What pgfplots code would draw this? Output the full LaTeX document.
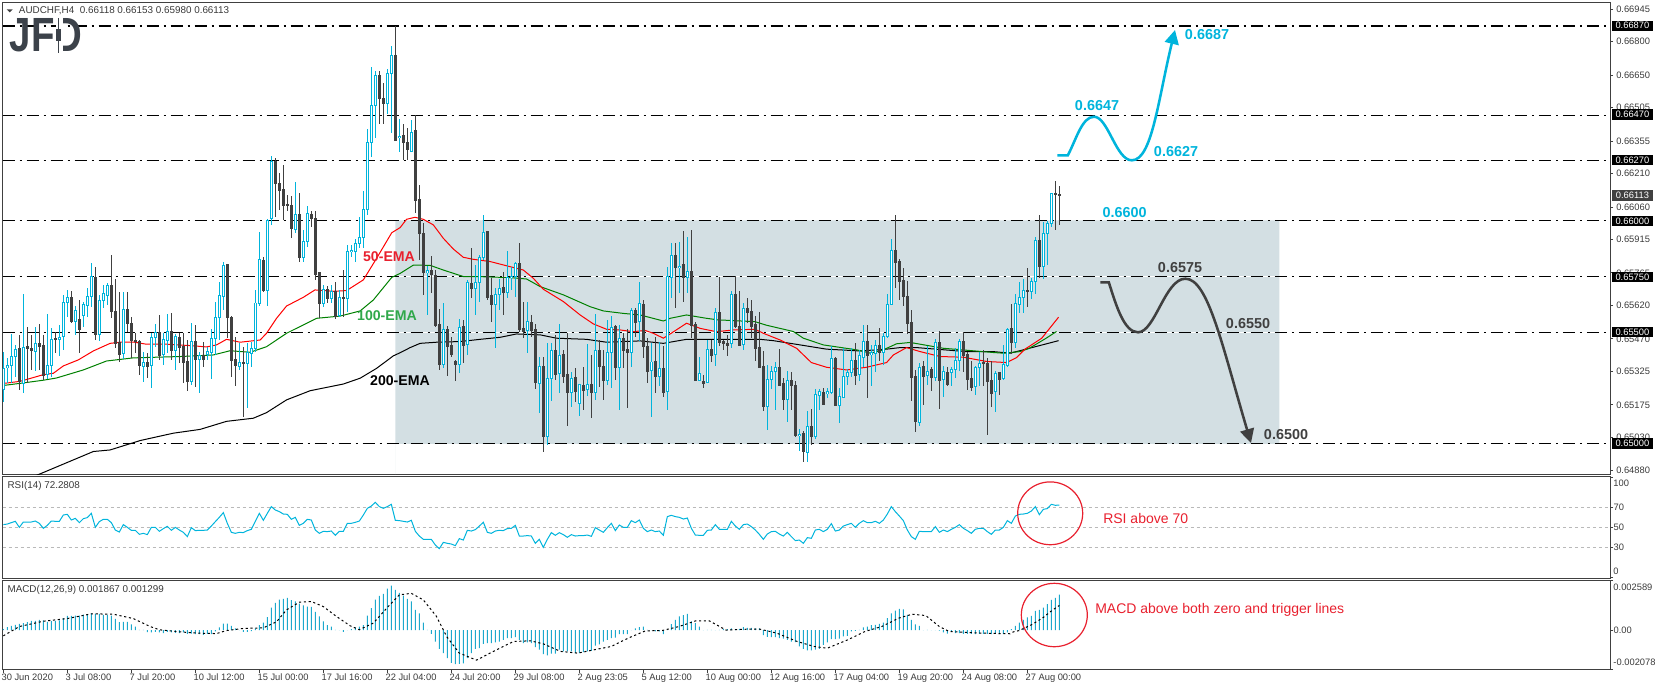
\documentclass[border=0pt]{standalone}
\usepackage{pgfplots}
\usepackage{pgfplotstable}
\usepackage{fontspec}
\setmainfont{Liberation Sans}
\pgfplotsset{compat=1.18}
\usetikzlibrary{arrows.meta}
\definecolor{cy}{HTML}{00B4DC}
\definecolor{dk}{HTML}{404040}
\definecolor{shade}{HTML}{D3DFE3}
\definecolor{hist}{HTML}{1CA8CC}
\definecolor{lbl}{HTML}{3A3A3A}
\definecolor{redt}{HTML}{E8202E}
\definecolor{greent}{HTML}{2FA84A}
\definecolor{emag}{HTML}{008000}
\definecolor{logo}{HTML}{3C424A}

\pgfplotstableread{
i o h l c
0 0.65246 0.65413 0.65189 0.65338
1 0.65341 0.65383 0.65271 0.65352
2 0.65352 0.65490 0.65271 0.65394
3 0.65391 0.65443 0.65301 0.65423
5 0.65271 0.65671 0.65229 0.65432
8 0.65413 0.65525 0.65328 0.65450
11 0.65309 0.65581 0.65289 0.65349
12 0.65352 0.65517 0.65301 0.65468
14 0.65468 0.65532 0.65394 0.65477
15 0.65480 0.65666 0.65420 0.65634
16 0.65634 0.65689 0.65570 0.65656
18 0.65547 0.65617 0.65487 0.65599
20 0.65573 0.65637 0.65525 0.65622
21 0.65619 0.65696 0.65570 0.65662
22 0.65662 0.65808 0.65614 0.65751
24 0.65492 0.65666 0.65462 0.65644
25 0.65641 0.65711 0.65607 0.65671
26 0.65666 0.65722 0.65622 0.65711
30 0.65405 0.65681 0.65379 0.65602
35 0.65350 0.65413 0.65279 0.65365
37 0.65350 0.65495 0.65249 0.65477
38 0.65477 0.65537 0.65435 0.65499
40 0.65398 0.65495 0.65353 0.65468
41 0.65465 0.65580 0.65405 0.65504
43 0.65420 0.65492 0.65331 0.65480
47 0.65279 0.65540 0.65264 0.65459
49 0.65379 0.65413 0.65229 0.65398
51 0.65402 0.65435 0.65376 0.65416
52 0.65408 0.65513 0.65291 0.65473
53 0.65473 0.65637 0.65398 0.65564
54 0.65564 0.65726 0.65465 0.65662
55 0.65659 0.65814 0.65599 0.65801
59 0.65350 0.65450 0.65331 0.65365
61 0.65361 0.65450 0.65159 0.65408
62 0.65405 0.65458 0.65346 0.65428
63 0.65428 0.65689 0.65413 0.65631
64 0.65629 0.65947 0.65617 0.65823
66 0.65686 0.66006 0.65617 0.66002
67 0.66007 0.66289 0.65980 0.66266
73 0.65962 0.66171 0.65943 0.66029
75 0.65833 0.65957 0.65816 0.65905
76 0.65905 0.66065 0.65883 0.66029
80 0.65629 0.65711 0.65611 0.65689
82 0.65652 0.65711 0.65629 0.65681
84 0.65573 0.65689 0.65567 0.65656
86 0.65650 0.65890 0.65592 0.65860
87 0.65860 0.65890 0.65838 0.65868
88 0.65860 0.65916 0.65816 0.65898
89 0.65898 0.66017 0.65875 0.65924
90 0.65924 0.66133 0.65875 0.66050
91 0.66050 0.66409 0.66025 0.66350
92 0.66348 0.66688 0.66286 0.66515
93 0.66514 0.66669 0.66368 0.66651
96 0.66523 0.66678 0.66476 0.66658
97 0.66658 0.66781 0.66390 0.66739
99 0.66371 0.66453 0.66308 0.66378
102 0.66309 0.66450 0.66306 0.66396
106 0.65768 0.65796 0.65577 0.65777
110 0.65358 0.65629 0.65338 0.65513
114 0.65355 0.65558 0.65319 0.65522
116 0.65446 0.65734 0.65398 0.65723
118 0.65695 0.65801 0.65577 0.65723
119 0.65723 0.65845 0.65637 0.65835
120 0.65835 0.66024 0.65823 0.65947
123 0.65625 0.65696 0.65431 0.65669
124 0.65669 0.65737 0.65599 0.65696
126 0.65677 0.65863 0.65652 0.65744
127 0.65744 0.65793 0.65689 0.65752
128 0.65752 0.65816 0.65659 0.65808
131 0.65507 0.65634 0.65408 0.65549
134 0.65274 0.65391 0.65137 0.65349
136 0.65033 0.65450 0.64995 0.65294
137 0.65292 0.65450 0.65194 0.65419
139 0.65315 0.65535 0.65230 0.65398
142 0.65230 0.65323 0.65167 0.65294
144 0.65182 0.65267 0.65125 0.65267
146 0.65244 0.65447 0.65215 0.65267
148 0.65230 0.65580 0.65197 0.65419
151 0.65283 0.65555 0.65264 0.65411
152 0.65408 0.65573 0.65249 0.65522
154 0.65341 0.65532 0.65152 0.65473
157 0.65408 0.65610 0.65346 0.65599
159 0.65547 0.65725 0.65462 0.65629
162 0.65328 0.65450 0.65119 0.65367
164 0.65301 0.65458 0.65259 0.65338
166 0.65234 0.65793 0.65152 0.65751
167 0.65746 0.65898 0.65652 0.65845
169 0.65790 0.65905 0.65674 0.65796
171 0.65744 0.65927 0.65674 0.65771
174 0.65286 0.65391 0.65282 0.65316
176 0.65276 0.65465 0.65271 0.65423
178 0.65401 0.65610 0.65349 0.65589
182 0.65451 0.65686 0.65431 0.65670
185 0.65446 0.65629 0.65421 0.65607
191 0.65167 0.65351 0.65063 0.65289
192 0.65289 0.65349 0.65246 0.65325
193 0.65324 0.65366 0.65152 0.65343
196 0.65199 0.65327 0.65096 0.65285
199 0.65037 0.65066 0.64970 0.65043
201 0.64961 0.65148 0.64921 0.65081
203 0.65033 0.65246 0.65023 0.65219
204 0.65216 0.65246 0.65152 0.65236
206 0.65227 0.65249 0.65204 0.65234
207 0.65230 0.65436 0.65224 0.65385
209 0.65175 0.65249 0.65093 0.65213
210 0.65210 0.65431 0.65204 0.65304
211 0.65301 0.65334 0.65264 0.65322
212 0.65321 0.65431 0.65298 0.65376
214 0.65310 0.65421 0.65283 0.65394
215 0.65388 0.65530 0.65346 0.65459
217 0.65400 0.65443 0.65260 0.65409
218 0.65406 0.65465 0.65324 0.65439
220 0.65409 0.65495 0.65354 0.65483
221 0.65480 0.65671 0.65473 0.65626
222 0.65625 0.65917 0.65622 0.65868
229 0.65099 0.65364 0.65078 0.65345
231 0.65306 0.65436 0.65264 0.65327
233 0.65297 0.65470 0.65282 0.65456
235 0.65288 0.65349 0.65212 0.65322
237 0.65321 0.65346 0.65260 0.65336
238 0.65333 0.65428 0.65294 0.65376
239 0.65374 0.65470 0.65327 0.65459
243 0.65257 0.65349 0.65219 0.65343
244 0.65343 0.65413 0.65257 0.65361
248 0.65233 0.65327 0.65145 0.65316
250 0.65292 0.65443 0.65286 0.65354
251 0.65351 0.65518 0.65346 0.65513
253 0.65456 0.65670 0.65431 0.65629
254 0.65626 0.65723 0.65585 0.65656
255 0.65655 0.65738 0.65585 0.65689
257 0.65683 0.65741 0.65649 0.65728
258 0.65728 0.65925 0.65671 0.65911
260 0.65794 0.65995 0.65737 0.65943
261 0.65943 0.65998 0.65801 0.65987
262 0.65987 0.66122 0.65969 0.66122
}\bulltab

\pgfplotstableread{
i o h l c
4 0.65426 0.65488 0.65241 0.65279
6 0.65434 0.65525 0.65271 0.65426
7 0.65428 0.65488 0.65331 0.65417
9 0.65450 0.65537 0.65331 0.65435
10 0.65443 0.65488 0.65286 0.65309
13 0.65471 0.65502 0.65405 0.65468
17 0.65656 0.65684 0.65540 0.65547
19 0.65558 0.65644 0.65405 0.65514
23 0.65747 0.65793 0.65465 0.65492
27 0.65711 0.65845 0.65562 0.65592
28 0.65595 0.65737 0.65428 0.65450
29 0.65456 0.65681 0.65368 0.65402
31 0.65602 0.65681 0.65502 0.65540
32 0.65540 0.65570 0.65383 0.65461
33 0.65462 0.65495 0.65405 0.65459
34 0.65461 0.65465 0.65309 0.65350
36 0.65365 0.65405 0.65294 0.65350
39 0.65499 0.65577 0.65376 0.65398
42 0.65504 0.65584 0.65376 0.65420
44 0.65477 0.65495 0.65361 0.65431
45 0.65435 0.65495 0.65274 0.65364
46 0.65370 0.65465 0.65238 0.65279
48 0.65459 0.65532 0.65256 0.65379
50 0.65398 0.65458 0.65346 0.65380
56 0.65801 0.65801 0.65473 0.65565
57 0.65568 0.65574 0.65301 0.65376
58 0.65379 0.65480 0.65261 0.65350
60 0.65365 0.65435 0.65122 0.65361
65 0.65823 0.65838 0.65681 0.65686
68 0.66265 0.66278 0.66017 0.66163
69 0.66169 0.66211 0.66047 0.66136
70 0.66141 0.66248 0.66002 0.66069
71 0.66074 0.66114 0.66044 0.66066
72 0.66069 0.66110 0.65920 0.65965
74 0.66029 0.66124 0.65816 0.65834
77 0.66029 0.66044 0.65972 0.66008
78 0.66010 0.66044 0.65734 0.65756
79 0.65766 0.65766 0.65562 0.65629
81 0.65692 0.65707 0.65629 0.65650
83 0.65681 0.65723 0.65559 0.65570
85 0.65656 0.65778 0.65570 0.65650
94 0.66649 0.66669 0.66432 0.66545
95 0.66548 0.66617 0.66432 0.66526
98 0.66739 0.66870 0.66360 0.66360
100 0.66382 0.66432 0.66271 0.66348
101 0.66351 0.66412 0.66271 0.66317
103 0.66400 0.66472 0.66032 0.66089
104 0.66095 0.66159 0.65823 0.65942
105 0.65942 0.65987 0.65666 0.65766
107 0.65778 0.65841 0.65674 0.65756
108 0.65756 0.65778 0.65525 0.65532
109 0.65537 0.65602 0.65331 0.65358
111 0.65514 0.65529 0.65304 0.65435
112 0.65443 0.65480 0.65391 0.65403
113 0.65368 0.65376 0.65282 0.65356
115 0.65525 0.65555 0.65364 0.65443
117 0.65720 0.65875 0.65652 0.65695
121 0.65950 0.65953 0.65644 0.65656
122 0.65662 0.65741 0.65547 0.65622
125 0.65699 0.65771 0.65577 0.65677
129 0.65808 0.65901 0.65502 0.65514
130 0.65517 0.65637 0.65473 0.65507
132 0.65544 0.65577 0.65480 0.65510
133 0.65514 0.65537 0.65244 0.65274
135 0.65349 0.65391 0.64964 0.65033
138 0.65420 0.65488 0.65286 0.65313
140 0.65401 0.65420 0.65271 0.65301
141 0.65313 0.65495 0.65082 0.65230
143 0.65298 0.65338 0.65189 0.65234
145 0.65264 0.65346 0.65152 0.65241
147 0.65268 0.65398 0.65118 0.65230
149 0.65420 0.65465 0.65256 0.65346
150 0.65349 0.65420 0.65197 0.65283
153 0.65525 0.65532 0.65286 0.65341
155 0.65470 0.65495 0.65338 0.65420
156 0.65425 0.65514 0.65159 0.65408
158 0.65599 0.65610 0.65480 0.65543
160 0.65626 0.65644 0.65383 0.65435
161 0.65435 0.65476 0.65271 0.65326
163 0.65368 0.65480 0.65227 0.65301
165 0.65338 0.65440 0.65212 0.65231
168 0.65845 0.65898 0.65607 0.65789
170 0.65802 0.65954 0.65637 0.65744
172 0.65774 0.65957 0.65473 0.65529
173 0.65537 0.65547 0.65282 0.65286
175 0.65282 0.65309 0.65249 0.65271
177 0.65425 0.65465 0.65368 0.65398
179 0.65589 0.65746 0.65436 0.65454
180 0.65458 0.65465 0.65421 0.65448
181 0.65452 0.65488 0.65394 0.65440
183 0.65670 0.65752 0.65518 0.65528
184 0.65528 0.65685 0.65439 0.65443
186 0.65607 0.65652 0.65540 0.65589
187 0.65595 0.65644 0.65473 0.65528
188 0.65533 0.65573 0.65371 0.65425
189 0.65431 0.65592 0.65342 0.65342
190 0.65349 0.65416 0.65148 0.65166
194 0.65343 0.65424 0.65257 0.65264
195 0.65269 0.65294 0.65152 0.65197
197 0.65285 0.65324 0.65152 0.65264
198 0.65264 0.65282 0.65033 0.65037
200 0.65045 0.65058 0.64921 0.64966
202 0.65081 0.65157 0.64996 0.65033
205 0.65233 0.65249 0.65179 0.65179
208 0.65385 0.65391 0.65170 0.65175
213 0.65376 0.65453 0.65264 0.65309
216 0.65459 0.65533 0.65207 0.65398
219 0.65439 0.65518 0.65371 0.65409
223 0.65868 0.66025 0.65697 0.65814
224 0.65819 0.65826 0.65644 0.65729
225 0.65734 0.65789 0.65618 0.65659
226 0.65662 0.65731 0.65492 0.65540
227 0.65543 0.65597 0.65194 0.65295
228 0.65300 0.65331 0.65055 0.65099
230 0.65346 0.65369 0.65175 0.65304
232 0.65331 0.65346 0.65239 0.65297
234 0.65456 0.65506 0.65157 0.65286
236 0.65318 0.65346 0.65257 0.65264
240 0.65459 0.65500 0.65324 0.65398
241 0.65403 0.65413 0.65242 0.65288
242 0.65291 0.65369 0.65239 0.65251
245 0.65363 0.65421 0.65257 0.65360
246 0.65363 0.65383 0.65040 0.65279
247 0.65282 0.65373 0.65163 0.65224
249 0.65318 0.65324 0.65219 0.65286
252 0.65518 0.65625 0.65401 0.65456
256 0.65686 0.65786 0.65614 0.65680
259 0.65911 0.66025 0.65741 0.65794
263 0.66122 0.66177 0.65958 0.66116
264 0.66118 0.66153 0.65980 0.66113
}\beartab

\pgfplotsset{
 panel/.style={
  scale only axis, width=1205.5pt, xmin=-0.1575, xmax=401.67,
  axis line style={draw=dk,line width=.75pt},
  tick style={draw=dk,line width=.75pt},
  major tick length=2.25pt, tick align=outside,
  ytick pos=right, yticklabel pos=right, xtick pos=bottom,
  scaled y ticks=false,
  ticklabel style={font=\fontsize{7}{8}\selectfont, text=lbl},
  yticklabel style={anchor=west, inner sep=0pt},
 },
 lev/.style={black,line width=.8pt,dash pattern=on 9pt off 3.75pt on 1.5pt off 3.75pt, forget plot},
 cnd/.style={no marks,draw=none,forget plot,error bars/.cd,y dir=both,y explicit,error mark=none,error bar style={#1}},
}

\begin{document}
\begin{tikzpicture}
\path[use as bounding box] (0pt,0pt) rectangle (1241.25pt,-517.5pt);

% ---------- main panel
\begin{axis}[panel, at={(2.025pt,-1.725pt)}, anchor=north west, height=354pt,
  ymin=0.64864, ymax=0.66976, xtick=\empty,
  ytick={0.66945,0.668,0.6665,0.66505,0.66355,0.6621,0.6606,0.65915,0.65765,0.6562,0.6547,0.65325,0.65175,0.6503,0.6488},
  yticklabels={0.66945,0.66800,0.66650,0.66505,0.66355,0.66210,0.66060,0.65915,0.65765,0.65620,0.65470,0.65325,0.65175,0.65030,0.64880},
  yticklabel style={xshift=2.2pt},
]
\addplot[fill=shade,draw=none,forget plot] coordinates {(98,0.65)(319,0.65)(319,0.66)(98,0.66)} \closedcycle;
\addplot[white,line width=.8pt,forget plot] coordinates {(98,0.6575)(319,0.6575)};
\addplot[white,line width=.8pt,forget plot] coordinates {(98,0.655)(319,0.655)};
\addplot[lev] coordinates {(-0.15,0.6687)(401.6,0.6687)};
\addplot[lev] coordinates {(-0.15,0.6647)(401.6,0.6647)};
\addplot[lev] coordinates {(-0.15,0.6627)(401.6,0.6627)};
\addplot[lev] coordinates {(-0.15,0.66)(401.6,0.66)};
\addplot[lev] coordinates {(-0.15,0.6575)(401.6,0.6575)};
\addplot[lev] coordinates {(-0.15,0.655)(401.6,0.655)};
\addplot[lev] coordinates {(-0.15,0.65)(401.6,0.65)};
% 200-EMA
\addplot[black,line width=.75pt,forget plot] coordinates {(0,0.64800)(9.2,0.64866)(22.5,0.64966)(26.7,0.64973)(34.2,0.65015)(42.5,0.65048)(49.2,0.65065)(55.8,0.65101)(62.5,0.65115)(65.8,0.65140)(70.8,0.65197)(76.7,0.65238)(85,0.65268)(89.2,0.65294)(93.3,0.65338)(97.5,0.65394)(99.2,0.65408)(101.7,0.65431)(104.2,0.65450)(108.3,0.65455)(114.2,0.65458)(119.2,0.65468)(124.2,0.65477)(128.3,0.65492)(134.2,0.65488)(138.3,0.65473)(145.8,0.65468)(150.8,0.65455)(159.2,0.65461)(165,0.65450)(170.8,0.65468)(178.3,0.65468)(189.2,0.65468)(192.5,0.65462)(199.2,0.65443)(205.8,0.65424)(214.2,0.65416)(220.8,0.65424)(224.2,0.65431)(228.3,0.65431)(240.8,0.65413)(247.5,0.65413)(251.7,0.65406)(256.5,0.65428)(263.8,0.65462)};
% 100-EMA
\addplot[emag,line width=.75pt,forget plot] coordinates {(0.2,0.65262)(4.2,0.65271)(10,0.65285)(13.3,0.65295)(20,0.65331)(25.8,0.65371)(32.5,0.65385)(44.2,0.65391)(52.5,0.65398)(56.7,0.65417)(61.7,0.65410)(65.8,0.65435)(70.8,0.65495)(78.3,0.65562)(84.2,0.65572)(89.2,0.65595)(92.5,0.65644)(97.1,0.65745)(99.2,0.65763)(102.5,0.65800)(106.7,0.65799)(110,0.65778)(115,0.65749)(118.3,0.65749)(126.7,0.65744)(130.8,0.65738)(134.2,0.65704)(140,0.65667)(146.7,0.65614)(150,0.65595)(155,0.65584)(159.2,0.65577)(165,0.65550)(166.7,0.65562)(170.8,0.65577)(175.8,0.65562)(178.7,0.65555)(187.9,0.65547)(190.8,0.65531)(197.5,0.65503)(200,0.65473)(205,0.65443)(213.3,0.65421)(216.8,0.65406)(220,0.65421)(223.3,0.65448)(226.7,0.65454)(235,0.65428)(247.5,0.65409)(250,0.65406)(254.2,0.65413)(256.5,0.65428)(260.7,0.65473)(263.3,0.65503)};
% 50-EMA
\addplot[red,line width=.75pt,forget plot] coordinates {(0.2,0.65271)(4.2,0.65280)(8.3,0.65301)(10,0.65310)(12.5,0.65316)(15,0.65349)(18.75,0.65376)(22.5,0.65416)(26.7,0.65450)(29.2,0.65455)(32.5,0.65456)(35.8,0.65446)(40,0.65447)(46.7,0.65440)(50.8,0.65434)(53.3,0.65443)(55.8,0.65468)(59.2,0.65455)(64.2,0.65465)(65.8,0.65495)(68.3,0.65562)(70.8,0.65617)(75,0.65656)(77.9,0.65689)(82.5,0.65683)(85.8,0.65686)(90,0.65734)(93.3,0.65830)(97.1,0.65945)(99.2,0.65968)(100.8,0.66005)(102.9,0.66014)(105,0.66005)(107.5,0.65980)(110,0.65920)(112.5,0.65872)(115,0.65835)(117.5,0.65826)(121.7,0.65816)(126.7,0.65793)(130,0.65778)(132.5,0.65741)(135,0.65692)(140,0.65637)(144.2,0.65577)(147.5,0.65537)(150.8,0.65513)(154.2,0.65510)(157.5,0.65502)(160.4,0.65508)(162.5,0.65495)(165,0.65473)(166.7,0.65492)(170.8,0.65540)(174.2,0.65517)(178.3,0.65502)(182.5,0.65510)(187.9,0.65513)(190,0.65495)(194.2,0.65465)(198.3,0.65428)(202,0.65364)(205.8,0.65343)(210.8,0.65331)(215.8,0.65343)(220.8,0.65364)(222.5,0.65398)(225.8,0.65431)(229.2,0.65413)(234.2,0.65391)(240,0.65388)(245.8,0.65369)(250.8,0.65364)(253.3,0.65386)(255.4,0.65424)(259.6,0.65473)(263.8,0.65567)};
% candles
\addplot[cnd={draw=cy,line width=.75pt}]
  table[x=i,y=c,y error plus expr=\thisrow{h}-\thisrow{c},y error minus expr=\thisrow{c}-\thisrow{l}] {\bulltab};
\addplot[cnd={draw=dk,line width=.75pt}]
  table[x=i,y=c,y error plus expr=\thisrow{h}-\thisrow{c},y error minus expr=\thisrow{c}-\thisrow{l}] {\beartab};
\addplot[cnd={draw=cy,line width=2.25pt}]
  table[x=i,y expr=(\thisrow{o}+\thisrow{c})/2,y error expr=(\thisrow{c}-\thisrow{o})/2+0.000022] {\bulltab};
\addplot[cnd={draw=white,line width=.75pt}]
  table[x=i,y expr=(\thisrow{o}+\thisrow{c})/2,y error expr={max((\thisrow{c}-\thisrow{o})/2-0.000022,0)}] {\bulltab};
\addplot[cnd={draw=dk,line width=2.25pt}]
  table[x=i,y expr=(\thisrow{o}+\thisrow{c})/2,y error expr=(\thisrow{o}-\thisrow{c})/2+0.000022] {\beartab};
\end{axis}

% ---------- RSI panel
\begin{axis}[panel, at={(2.025pt,-357.525pt)}, anchor=north west, height=76pt,
  ymin=-0.7, ymax=100.6, xtick=\empty,
  ytick={100,70,50,30,0},
  yticklabels={,70,50,30,},
  yticklabel style={xshift=0.2pt},
]
\addplot[gray!55,line width=.75pt,dash pattern=on 2.5pt off 2pt,forget plot] coordinates {(-0.15,70)(401.6,70)};
\addplot[gray!55,line width=.75pt,dash pattern=on 2.5pt off 2pt,forget plot] coordinates {(-0.15,50)(401.6,50)};
\addplot[gray!55,line width=.75pt,dash pattern=on 2.5pt off 2pt,forget plot] coordinates {(-0.15,30)(401.6,30)};
\addplot[cy,line width=.75pt,forget plot] coordinates {
(0,52.7)(1,53.3)(2,54.7)(3,56)(4,50)(5,55.3)(6,55.3)(7,55.3)(8,56.3)(9,54)(10,49)(11,52)(12,56.3)(13,56)(14,56)(15,62.3)(16,63)(17,57.3)(18,59)(19,54.7)(20,58.7)(21,59.7)(22,64)(23,50)(24,55.7)(25,58)(26,58)(27,54.7)(28,47.3)(29,45.3)(30,52.7)(31,50)(32,47)(33,47)(34,43)(35,44)(36,42.7)(37,50)(38,50)(39,46)(40,48.7)(41,51)(42,47)(43,50)(44,47.3)(45,45)(46,40.7)(47,49.7)(48,46.7)(49,47)(50,47)(51,47.3)(52,51.3)(53,55.7)(54,60)(55,64.7)(56,54)(57,45)(58,44)(59,45)(60,44.7)(61,46.7)(62,48)(63,56)(64,64)(65,57)(66,64)(67,70.7)(68,67.3)(69,65.7)(70,63.3)(71,63)(72,58)(73,60)(74,52)(75,54)(76,58)(77,57.3)(78,47.3)(79,44)(80,46)(81,45.7)(82,46.3)(83,42)(84,46)(85,46)(86,54)(87,54)(88,55)(89,56.3)(90,62.3)(91,69)(92,71.3)(93,75)(94,70.7)(95,69)(96,70.7)(97,73)(98,57)(99,56.7)(100,56)(101,55.3)(102,57)(103,46)(104,41.3)(105,38)(106,38)(107,38)(108,32.3)(109,28.7)(110,35)(111,34)(112,33.3)(113,31.7)(114,38.7)(115,37.3)(116,47)(117,46.3)(118,47.7)(119,51.3)(120,55)(121,45)(122,44)(123,46.3)(124,47)(125,46.7)(126,48.7)(127,49)(128,52)(129,41.3)
(130,41.3)(131,41.7)(132,41.3)(133,34)(134,38)(135,30)(136,38)(137,44.7)(138,42)(139,44.7)(140,42.7)(141,40)(142,42.7)(143,41.3)(144,41.7)(145,41.7)(146,42.3)(147,41)(148,49.7)(149,47.3)(150,45)(151,49.7)(152,54)(153,46.7)(154,52.3)(155,50)(156,50)(157,56.7)(158,54.7)(159,57.3)(160,49)(161,45.7)(162,47.3)(163,45.7)(164,46.3)(165,42)(166,60.7)(167,62)(168,60.7)(169,60)(170,58.3)(171,59.3)(172,49)(173,42.3)(174,42)(175,42)(176,47)(177,47.3)(178,52.7)(179,48)(180,48)(181,48)(182,56)(183,51.3)(184,48)(185,52.7)(186,53.3)(187,50.7)(188,47.3)(189,43)(190,38)(191,43.3)(192,45.7)(193,46)(194,43.3)(195,41.3)(196,45)(197,40.7)(198,36.7)(199,37.3)(200,34)(201,39.7)(202,39)(203,47.3)(204,48)(205,45.7)(206,48)(207,53.7)(208,46.3)(209,47.3)(210,51.3)(211,52.7)(212,54)(213,50)(214,54)(215,56.7)(216,54.7)(217,54.7)(218,56)(219,54)(220,57.3)(221,63.3)(222,70.7)(223,65.7)(224,61.3)(225,56.7)(226,47.3)(227,40.7)(228,38)(229,46)(230,45.7)(231,45.7)(232,45.7)(233,50.7)(234,45)(235,47.3)(236,45.7)(237,48)(238,50)(239,52.7)(240,49)(241,46.7)(242,44)(243,48)(244,49)(245,49)(246,45.7)(247,43)(248,47.3)(249,47.3)(250,50)(251,56.7)(252,54)(253,61.3)(254,63)(255,63.3)(256,64)(257,66.3)(258,70.7)(259,62.7)(260,68)(261,68.7)(262,73)(263,72)(264,72.28)};
\end{axis}

% ---------- MACD panel
\begin{axis}[panel, at={(2.025pt,-435.225pt)}, anchor=north west, height=67pt,
  ymin=-0.00208, ymax=0.002625,
  ytick={0.002589,0,-0.002078},
  yticklabels={,0.00,},
  yticklabel style={xshift=0.2pt},
  xtick={0,16,32,48,64,80,96,112,128,144,160,176,192,208,224,240,256},
  xticklabels={30 Jun 2020,3 Jul 08:00,7 Jul 20:00,10 Jul 12:00,15 Jul 00:00,17 Jul 16:00,22 Jul 04:00,24 Jul 20:00,29 Jul 08:00,2 Aug 23:05,5 Aug 12:00,10 Aug 00:00,12 Aug 16:00,17 Aug 04:00,19 Aug 20:00,24 Aug 08:00,27 Aug 00:00},
  xticklabel style={anchor=north west, inner sep=0pt, xshift=-1.5pt, yshift=-0.8pt},
]
\addplot[ybar,bar width=.75pt,bar shift=0pt,fill=hist,draw=none,forget plot] coordinates {
(0,0.00005)(1,0.00016)(2,0.00023)(3,0.00028)(4,0.00033)(5,0.00037)(6,0.00042)(7,0.00049)(8,0.00049)(9,0.00054)(10,0.00051)(11,0.00044)(12,0.00047)(13,0.00049)(14,0.00051)(15,0.00063)(16,0.00075)(17,0.00075)(18,0.00077)(19,0.00077)(20,0.00082)(21,0.00084)(22,0.00089)(23,0.00086)(24,0.00086)(25,0.00080)(26,0.00080)(27,0.00077)(28,0.00060)(29,0.00042)(30,0.00044)(31,0.00044)(32,0.00030)(33,0.00019)(34,0.00002)(35,0.00002)(36,-0.00010)(37,-0.00012)(38,-0.00009)(39,-0.00012)(40,-0.00016)(41,-0.00009)(42,-0.00012)(43,-0.00014)(44,-0.00016)(45,-0.00012)(46,-0.00019)(47,-0.00018)(48,-0.00021)(49,-0.00021)(50,-0.00025)(51,-0.00019)(52,-0.00021)(53,-0.00007)(54,0.00014)(55,0.00035)(56,0.00035)(57,0.00023)(58,0.00009)(59,0)(60,-0.00009)(61,-0.00009)(62,-0.00005)(63,0.00009)(64,0.00026)(65,0.00040)(66,0.00068)(67,0.00119)(68,0.00144)(69,0.00161)(70,0.00165)(71,0.00170)(72,0.00158)(73,0.00151)(74,0.00140)(75,0.00131)(76,0.00124)(77,0.00123)(78,0.00096)(79,0.00072)(80,0.00046)(81,0.00026)(82,0.00019)(83,0.00001)(84,0)(85,-0.00009)(86,0)(87,0.00005)(88,0.00014)(89,0.00019)(90,0.00026)(91,0.00077)(92,0.00116)(93,0.00161)(94,0.00180)(95,0.00191)(96,0.00219)(97,0.00235)(98,0.00212)(99,0.00196)(100,0.00182)(101,0.00165)(102,0.00151)(103,0.00107)(104,0.00089)(105,0.00040)(106,0.00002)(107,-0.00019)(108,-0.00060)(109,-0.00098)(110,-0.00121)(111,-0.00147)(112,-0.00173)(113,-0.00179)(114,-0.00177)(115,-0.00175)(116,-0.00147)(117,-0.00121)(118,-0.00098)(119,-0.00095)(120,-0.00072)(121,-0.00068)(122,-0.00068)(123,-0.00065)(124,-0.00060)(125,-0.00051)(126,-0.00042)(127,-0.00042)(128,-0.00037)(129,-0.00051)
(130,-0.00068)(131,-0.00065)(132,-0.00068)(133,-0.00089)(134,-0.00103)(135,-0.00126)(136,-0.00133)(137,-0.00124)(138,-0.00124)(139,-0.00103)(140,-0.00112)(141,-0.00112)(142,-0.00112)(143,-0.00121)(144,-0.00121)(145,-0.00116)(146,-0.00112)(147,-0.00109)(148,-0.00082)(149,-0.00075)(150,-0.00061)(151,-0.00051)(152,-0.00042)(153,-0.00039)(154,-0.00021)(155,-0.00021)(156,-0.00021)(157,0)(158,0.00010)(159,0.00016)(160,0.00019)(161,0.00002)(162,0)(163,-0.00007)(164,-0.00007)(165,-0.00021)(166,0.00002)(167,0.00032)(168,0.00054)(169,0.00072)(170,0.00079)(171,0.00086)(172,0.00046)(173,0.00037)(174,0.00019)(175,0)(176,0.00002)(177,0.00002)(178,0)(179,0.00002)(180,0.00005)(181,0.00005)(182,0.00010)(183,0.00005)(184,0.00007)(185,0.00016)(186,0.00012)(187,0.00012)(188,0.00010)(189,0.00010)(190,-0.00026)(191,-0.00035)(192,-0.00037)(193,-0.00037)(194,-0.00042)(195,-0.00044)(196,-0.00051)(197,-0.00060)(198,-0.00063)(199,-0.00086)(200,-0.00098)(201,-0.00107)(202,-0.00107)(203,-0.00103)(204,-0.00098)(205,-0.00077)(206,-0.00065)(207,-0.00047)(208,-0.00047)(209,-0.00044)(210,-0.00033)(211,-0.00030)(212,-0.00007)(213,-0.00004)(214,0.00002)(215,0.00014)(216,0.00019)(217,0.00026)(218,0.00028)(219,0.00033)(220,0.00040)(221,0.00063)(222,0.00089)(223,0.00103)(224,0.00112)(225,0.00110)(226,0.00080)(227,0.00054)(228,0.00030)(229,0.00023)(230,0)(231,0.00002)(232,0)(233,0)(234,-0.00002)(235,-0.00012)(236,-0.00018)(237,-0.00007)(238,-0.00016)(239,-0.00016)(240,-0.00019)(241,-0.00019)(242,-0.00019)(243,-0.00021)(244,-0.00019)(245,-0.00019)(246,-0.00019)(247,-0.00021)(248,-0.00019)(249,-0.00021)(250,-0.00019)(251,-0.00012)(252,0.00005)(253,0.00023)(254,0.00040)(255,0.00054)(256,0.00067)(257,0.00075)(258,0.00102)(259,0.00107)(260,0.00119)(261,0.00137)(262,0.00159)(263,0.00170)(264,0.00187)};
\addplot[black,line width=.75pt,dash pattern=on 1.6pt off 2pt,forget plot] coordinates {
(0,-0.00030)(4,0.00019)(10,0.00047)(16,0.00061)(22,0.00086)(27.5,0.00084)(32.5,0.00061)(36.7,0.00019)(39,0.00002)(44,-0.00009)(49,-0.00016)(53.3,-0.00018)(55.8,-0.00002)(60,0.00009)(65,0.00012)(68.3,0.00044)(70.8,0.00107)(74,0.00147)(77,0.00151)(80,0.00124)(83.3,0.00072)(86.7,0.00023)(89,0.00002)(92.5,0.00037)(96.2,0.00124)(99,0.00186)(102,0.00194)(105,0.00159)(108.3,0.00072)(110.8,-0.00033)(114,-0.00121)(118.3,-0.00158)(122.5,-0.00112)(127.5,-0.00060)(131.7,-0.00056)(135,-0.00072)(139.3,-0.00112)(143.6,-0.00121)(147.8,-0.00103)(152,-0.00086)(156.2,-0.00042)(160.5,-0.00004)(164.7,-0.00002)(168.9,0.00019)(173.1,0.00049)(176.5,0.00049)(180.7,0)(185.8,0.00005)(189.2,0.00005)(193.4,-0.00016)(198.5,-0.00060)(202.7,-0.00086)(206,-0.00095)(211.1,-0.00051)(215.4,-0.00007)(219.6,0.00019)(223.8,0.00063)(227.2,0.00084)(230.6,0.00077)(234,0.00019)(236.5,-0.00007)(245,-0.00016)(251.7,-0.00019)(252.5,-0.00009)(254,-0.00002)(255.4,0.00012)(257,0.00028)(258.5,0.00047)(260,0.00067)(261.5,0.00093)(263.2,0.00119)(264,0.00130)};
\end{axis}

% ---------- annotations in image pixels
\begin{scope}[x=.75pt,y=-.75pt]
\def\lb{\fontsize{7}{8}\selectfont}
\def\ann{\bfseries\fontsize{10.8}{12}\selectfont}
% header
\fill[dk] (6.7,9.3)--(12.7,9.3)--(9.7,12.3)--cycle;
\node[anchor=west,inner sep=0pt,text=lbl,font=\fontsize{7.4}{9}\selectfont] at (18.7,10.7) {AUDCHF,H4\ \ 0.66118 0.66153 0.65980 0.66113};
\node[anchor=west,inner sep=0pt,text=lbl,font=\fontsize{7.4}{9}\selectfont] at (7.3,486) {RSI(14) 72.2808};
\node[anchor=west,inner sep=0pt,text=lbl,font=\fontsize{7.4}{9}\selectfont] at (7.3,589.5) {MACD(12,26,9) 0.001867 0.001299};
% shifted scale labels of the two indicator panels
\foreach \y/\t in {483/100,571.3/0,587.6/0.002589,662.6/-0.002078}{
 \node[anchor=west,inner sep=0pt,text=lbl,font=\lb] at (1613.2,\y) {\t};}
% logo
\node[inner sep=0pt,text=logo,font=\bfseries\fontsize{36}{36}\selectfont,xscale=.8] at (46,35.5) {JFD};
\fill[white] (55.5,16)rectangle(63,55);
\fill[logo] (57.7,18)rectangle(58.9,53);
\fill[logo] (56,29)rectangle(61,41);
% level boxes
\foreach \y/\t in {25.7/0.66870,114.5/0.66470,160/0.66270,221/0.66000,277/0.65750,332/0.65500,443.5/0.65000}{
 \node[fill=black,text=white,inner sep=0pt,minimum width=30.5pt,minimum height=7.8pt,font=\lb] at (1632.4,\y) {\t};}
\node[fill=dk,text=white,inner sep=0pt,minimum width=30.5pt,minimum height=7.8pt,font=\lb] at (1632.4,195.3) {0.66113};
% EMA labels
\node[text=redt,font=\bfseries\fontsize{10.6}{12}\selectfont] at (389,256.7) {50-EMA};
\node[text=greent,font=\bfseries\fontsize{10.6}{12}\selectfont] at (387,316) {100-EMA};
\node[text=black,font=\bfseries\fontsize{10.6}{12}\selectfont] at (400,381) {200-EMA};
% scenario paths
\draw[cy,line width=1.9pt,-{Triangle[length=10.5pt,width=10.5pt]}] (1057.3,155.3)--(1067.8,155.3) .. controls (1076,140) and (1082,116.7) .. (1094,116.7) .. controls (1108,116.7) and (1116,160.3) .. (1131.8,160.3) .. controls (1152,160.3) and (1158,100) .. (1175,30);
\draw[dk,line width=1.9pt,-{Triangle[length=10.5pt,width=10.5pt]}] (1100.4,282.3)--(1108.8,282.3) .. controls (1116,305) and (1124,332.3) .. (1138,332.3) .. controls (1155,332.3) and (1165,278.7) .. (1185.4,278.7) .. controls (1208,278.7) and (1222,345) .. (1251,443);
\node[text=cy,font=\ann] at (1207,35) {0.6687};
\node[text=cy,font=\ann] at (1097,106) {0.6647};
\node[text=cy,font=\ann] at (1176,152) {0.6627};
\node[text=cy,font=\ann] at (1124.7,213) {0.6600};
\node[text=dk,font=\ann] at (1180,268) {0.6575};
\node[text=dk,font=\ann] at (1248,324) {0.6550};
\node[text=dk,font=\ann] at (1286,435) {0.6500};
% circles
\draw[redt,line width=.9pt] (1050.2,513.3) ellipse [x radius=32.5, y radius=31.4];
\draw[redt,line width=.9pt] (1054.3,615) ellipse [x radius=33, y radius=31.7];
\node[anchor=west,inner sep=0pt,text=redt,font=\fontsize{10.5}{12}\selectfont] at (1103,518) {RSI above 70};
\node[anchor=west,inner sep=0pt,text=redt,font=\fontsize{10.5}{12}\selectfont] at (1095,610) {MACD above both zero and trigger lines};
\end{scope}
\end{tikzpicture}
\end{document}
